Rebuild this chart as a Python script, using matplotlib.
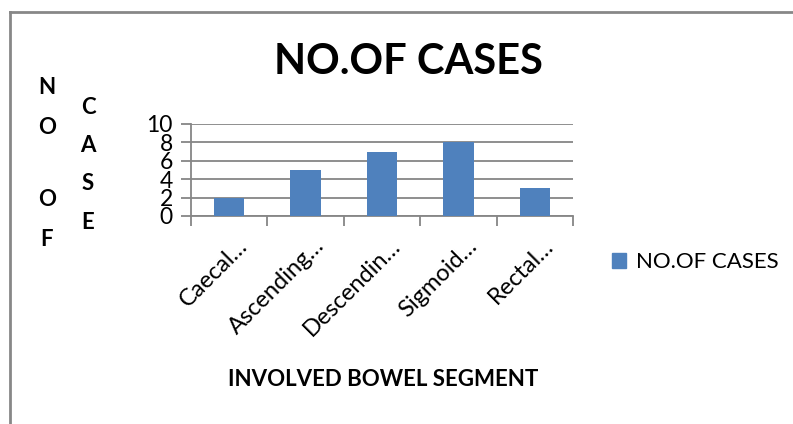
import matplotlib
matplotlib.use("Agg")
import matplotlib.pyplot as plt
from matplotlib.lines import Line2D
from matplotlib.patches import Patch
from matplotlib.transforms import ScaledTranslation

plt.rcParams['font.family'] = ['Lato', 'DejaVu Sans']

# bowel segment data
segments = ["Caecal…", "Ascending…", "Descendin…", "Sigmoid…", "Rectal…"]
cases = [2, 5, 7, 8, 3]
y_ticks = [0, 2, 4, 6, 8, 10]

W, H = 793, 424
fig = plt.figure(figsize=(W / 100, H / 100), dpi=100)

grey = "#868686"
bar_col = "#4F81BD"

ax = fig.add_axes([191 / W, 1 - 216 / H, 382 / W, 92 / H])
x = list(range(len(segments)))
ax.bar(x, cases, width=0.4, color=bar_col, zorder=3)

ax.set_xlim(-0.5, len(segments) - 0.5)
ax.set_ylim(0, 10)
ax.set_yticks(y_ticks)
ax.set_yticklabels([str(v) for v in y_ticks], fontsize=16.5)
ax.yaxis.grid(True, color=grey, linewidth=1.3, zorder=0)

# category boundaries carry the ticks, labels sit in the middle
ax.set_xticks([i - 0.5 for i in range(len(segments) + 1)])
ax.set_xticklabels([])
ax.set_xticks(x, minor=True)
ax.set_xticklabels(segments, minor=True, rotation=45, ha="right",
                   va="center", rotation_mode="anchor", fontsize=17)
ax.tick_params(axis="x", which="minor", length=0, pad=19)
ax.tick_params(axis="x", which="major", length=7, color=grey, width=1.3)
ax.tick_params(axis="y", length=7, color=grey, width=1.3, pad=6)
shift = ScaledTranslation(11 / 72, 0, fig.dpi_scale_trans)
for lab in ax.get_xticklabels(minor=True):
    lab.set_transform(lab.get_transform() + shift)

for s in ("top", "right"):
    ax.spines[s].set_visible(False)
for s in ("left", "bottom"):
    ax.spines[s].set_color(grey)
    ax.spines[s].set_linewidth(1.3)

# title and axis captions
fig.text(408 / W, 1 - 62 / H, "NO.OF CASES", fontsize=30, fontweight="bold",
         ha="center", va="center")
fig.text(383 / W, 1 - 380 / H, "INVOLVED BOWEL SEGMENT", fontsize=16,
         fontweight="bold", ha="center", va="center")

for ch, yy in zip("NOOF", [88, 128, 200, 240]):
    fig.text(47 / W, 1 - yy / H, ch, fontsize=16, fontweight="bold",
             ha="center", va="center")
for ch, yy in zip("CASE", [107, 146, 184, 222]):
    fig.text(88 / W, 1 - yy / H, ch, fontsize=16, fontweight="bold",
             ha="center", va="center")

fig.legend(handles=[Patch(color=bar_col, label="NO.OF CASES")],
           loc="center left", bbox_to_anchor=(592 / W, 1 - 262 / H),
           frameon=False, fontsize=16, handlelength=0.65, handleheight=0.65,
           handletextpad=0.45)

# outer chart frame
fig.add_artist(Line2D([9.5 / W, 1], [1 - 12 / H, 1 - 12 / H],
                      color="#878787", linewidth=2, transform=fig.transFigure))
fig.add_artist(Line2D([9.5 / W, 9.5 / W], [0, 1 - 12 / H],
                      color="#878787", linewidth=2, transform=fig.transFigure))

fig.savefig("out.png", dpi=100)
